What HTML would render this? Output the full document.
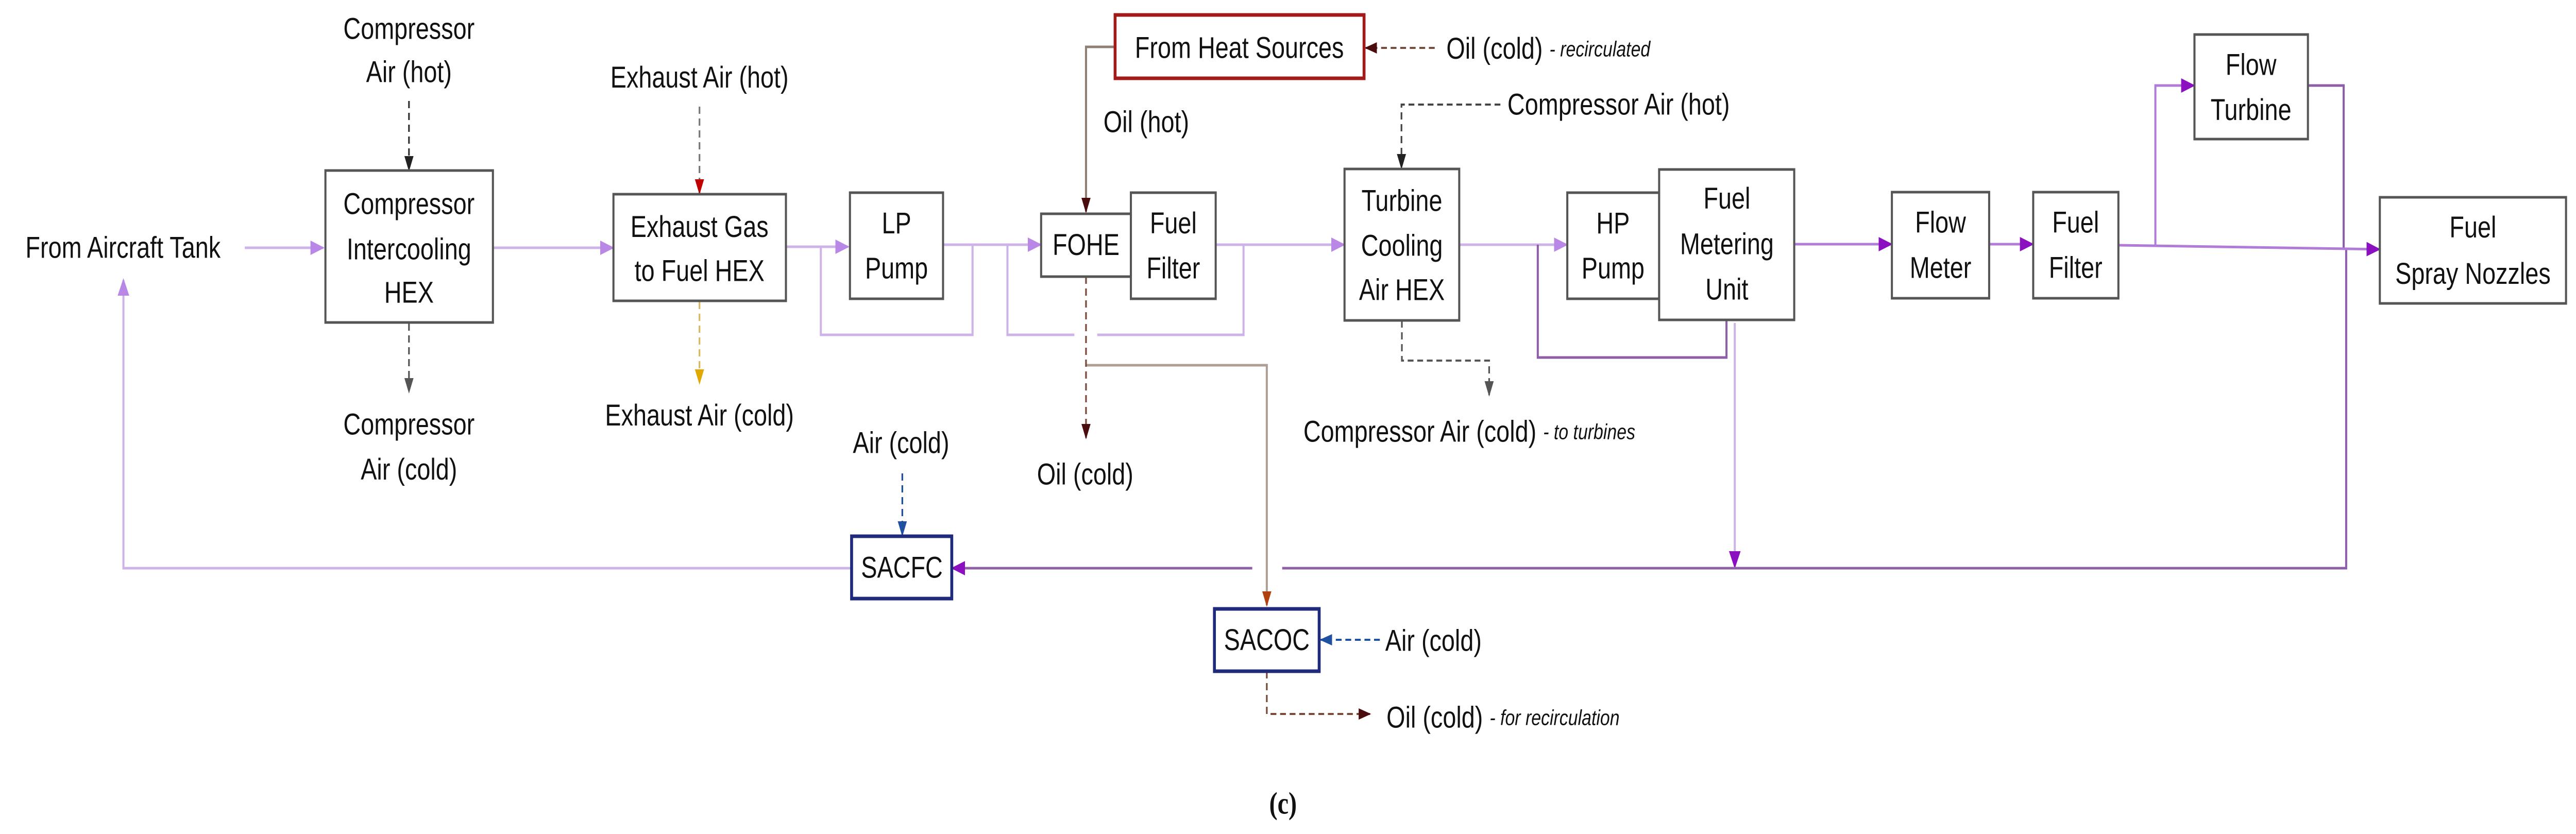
<!DOCTYPE html>
<html><head><meta charset="utf-8"><style>
html,body{margin:0;padding:0;background:#fff;overflow:hidden;width:100%;height:100%}
svg{display:block;width:100vw;height:100vh}
text{font-family:"Liberation Sans",sans-serif;font-size:58px;fill:#111;text-anchor:middle;dominant-baseline:central}
.it{font-style:italic;font-size:42px}
</style></head><body>
<svg viewBox="0 0 6198 1619" preserveAspectRatio="none" xmlns="http://www.w3.org/2000/svg">
<defs>
<marker id="aP" markerWidth="34" markerHeight="34" refX="30" refY="17" orient="auto" markerUnits="userSpaceOnUse"><path d="M0,3 L34,17 L0,31z" fill="#8a10c0"/></marker>
<marker id="aLP" markerWidth="34" markerHeight="34" refX="30" refY="17" orient="auto" markerUnits="userSpaceOnUse"><path d="M0,3 L34,17 L0,31z" fill="#b987e6"/></marker>
<marker id="aK" markerWidth="30" markerHeight="34" refX="27" refY="15" orient="auto" markerUnits="userSpaceOnUse"><path d="M0,4 L30,15 L0,26z" fill="#222"/></marker>
<marker id="aG" markerWidth="30" markerHeight="34" refX="27" refY="15" orient="auto" markerUnits="userSpaceOnUse"><path d="M0,4 L30,15 L0,26z" fill="#555"/></marker>
<marker id="aR" markerWidth="30" markerHeight="34" refX="27" refY="15" orient="auto" markerUnits="userSpaceOnUse"><path d="M0,4 L30,15 L0,26z" fill="#c00000"/></marker>
<marker id="aY" markerWidth="30" markerHeight="34" refX="27" refY="15" orient="auto" markerUnits="userSpaceOnUse"><path d="M0,4 L30,15 L0,26z" fill="#e0a800"/></marker>
<marker id="aB" markerWidth="30" markerHeight="34" refX="27" refY="15" orient="auto" markerUnits="userSpaceOnUse"><path d="M0,4 L30,15 L0,26z" fill="#2050a0"/></marker>
<marker id="aD" markerWidth="30" markerHeight="34" refX="27" refY="15" orient="auto" markerUnits="userSpaceOnUse"><path d="M0,4 L30,15 L0,26z" fill="#4a0c0c"/></marker>
<marker id="aO" markerWidth="30" markerHeight="34" refX="27" refY="15" orient="auto" markerUnits="userSpaceOnUse"><path d="M0,4 L30,15 L0,26z" fill="#b04010"/></marker>
</defs>

<g fill="none" stroke-linejoin="miter">
<g stroke="#cdb3e8" stroke-width="5">
<path d="M589,481 H777" marker-end="url(#aLP)"/>
<path d="M1186,481 H1474" marker-end="url(#aLP)"/>
<path d="M1891,479 H2040" marker-end="url(#aLP)"/>
<path d="M1975,479 V650 H2340 V475"/>
<path d="M2269,475 H2503" marker-end="url(#aLP)"/>
<path d="M2424,475 V650 H2585 M2640,650 H2992 V475"/>
<path d="M2925,475 H3233" marker-end="url(#aLP)"/>
<path d="M3511,475 H3769" marker-end="url(#aLP)"/>
<path d="M4174,627 V1100" marker-end="url(#aP)"/>
<path d="M2049,1103 H297 V544" marker-end="url(#aLP)"/>
</g>
<g stroke="#8e5fa8" stroke-width="5">
<path d="M3700,475 V694 H4154 V621"/>
<path d="M5645,484 V1103 H3085 M3013,1103 H2292" marker-end="url(#aP)"/>
<path d="M5553,166 H5639 V484"/>
</g>
<g stroke="#b07cd8" stroke-width="5">
<path d="M4317,474 H4550" marker-end="url(#aP)"/>
<path d="M4786,474 H4890" marker-end="url(#aP)"/>
<path d="M5186,476 V166 H5278" marker-end="url(#aP)"/>
<path d="M5097,476 L5724,484" marker-end="url(#aP)"/>
</g>
<path d="M2683,91 H2613 V411" stroke="#8f7f74" stroke-width="5" marker-end="url(#aD)"/>
<path d="M2613,709 H3048 V1175" stroke="#ad9f96" stroke-width="5" marker-end="url(#aO)"/>
<g stroke-dasharray="14,9" stroke-width="4">
<path d="M2613,537 V850" stroke="#7a4a3a" marker-end="url(#aD)"/>
<path d="M3452,93 H3286" stroke="#7a4a3a" marker-end="url(#aD)"/>
<path d="M3048,1303 V1386 H3296" stroke="#7a4a3a" marker-end="url(#aD)"/>
<path d="M984,196 V330" stroke="#333" marker-end="url(#aK)"/>
<path d="M984,628 V761" stroke="#555" marker-end="url(#aG)"/>
<path d="M1683,207 V375" stroke="#777" marker-end="url(#aR)"/>
<path d="M1683,586 V744" stroke="#d8b860" marker-end="url(#aY)"/>
<path d="M3610,203 H3372 V326" stroke="#444" marker-end="url(#aK)"/>
<path d="M3373,622 V700 H3583 V767" stroke="#555" marker-end="url(#aG)"/>
<path d="M2171,919 V1039" stroke="#2050a0" marker-end="url(#aB)"/>
<path d="M3320,1242 H3178" stroke="#2050a0" marker-end="url(#aB)"/>
</g>
</g>

<g fill="#fff" stroke="#555" stroke-width="5">
<rect x="783" y="331" width="403" height="295"/>
<rect x="1476" y="377" width="415" height="207"/>
<rect x="2045" y="374" width="224" height="206"/>
<rect x="2505" y="415" width="216" height="122"/>
<rect x="2721" y="374" width="204" height="206"/>
<rect x="3235" y="328" width="276" height="294"/>
<rect x="3771" y="374" width="221" height="206"/>
<rect x="3992" y="329" width="325" height="292"/>
<rect x="4552" y="373" width="234" height="206"/>
<rect x="4892" y="373" width="205" height="206"/>
<rect x="5280" y="67" width="273" height="203"/>
<rect x="5726" y="383" width="448" height="206"/>
</g>
<rect x="2683" y="29" width="599" height="123" fill="#fff" stroke="#a31a1a" stroke-width="7"/>
<rect x="2049" y="1041" width="241" height="121" fill="#fff" stroke="#1f2a7a" stroke-width="7"/>
<rect x="2922" y="1182" width="252" height="121" fill="#fff" stroke="#1f2a7a" stroke-width="7"/>

<text x="296" y="481">From Aircraft Tank</text>
<text x="984" y="56">Compressor</text><text x="984" y="140">Air (hot)</text>
<text x="984" y="396">Compressor</text><text x="984" y="484">Intercooling</text><text x="984" y="568">HEX</text>
<text x="984" y="824">Compressor</text><text x="984" y="912">Air (cold)</text>
<text x="1683" y="151">Exhaust Air (hot)</text>
<text x="1683" y="441">Exhaust Gas</text><text x="1683" y="526">to Fuel HEX</text>
<text x="1683" y="807">Exhaust Air (cold)</text>
<text x="2157" y="434">LP</text><text x="2157" y="521">Pump</text>
<text x="2613" y="476">FOHE</text>
<text x="2823" y="434">Fuel</text><text x="2823" y="521">Filter</text>
<text x="2982" y="93">From Heat Sources</text>
<text x="2758" y="237">Oil (hot)</text>
<text x="3480" y="95" style="text-anchor:start">Oil (cold) <tspan class="it">- recirculated</tspan></text>
<text x="3627" y="203" style="text-anchor:start">Compressor Air (hot)</text>
<text x="3373" y="390">Turbine</text><text x="3373" y="477">Cooling</text><text x="3373" y="563">Air HEX</text>
<text x="3136" y="838" style="text-anchor:start">Compressor Air (cold) <tspan class="it">- to turbines</tspan></text>
<text x="2611" y="921">Oil (cold)</text>
<text x="3881" y="434">HP</text><text x="3881" y="521">Pump</text>
<text x="4155" y="386">Fuel</text><text x="4155" y="474">Metering</text><text x="4155" y="562">Unit</text>
<text x="4669" y="432">Flow</text><text x="4669" y="520">Meter</text>
<text x="4994" y="432">Fuel</text><text x="4994" y="520">Filter</text>
<text x="5416" y="126">Flow</text><text x="5416" y="214">Turbine</text>
<text x="5950" y="442">Fuel</text><text x="5950" y="532">Spray Nozzles</text>
<text x="2168" y="860">Air (cold)</text>
<text x="2170" y="1102">SACFC</text>
<text x="3048" y="1243">SACOC</text>
<text x="3333" y="1244" style="text-anchor:start">Air (cold)</text>
<text x="3336" y="1393" style="text-anchor:start">Oil (cold) <tspan class="it">- for recirculation</tspan></text>
<text x="3087" y="1559" style="font-family:'Liberation Serif',serif;font-weight:bold;font-size:60px">(c)</text>
</svg>
</body></html>
